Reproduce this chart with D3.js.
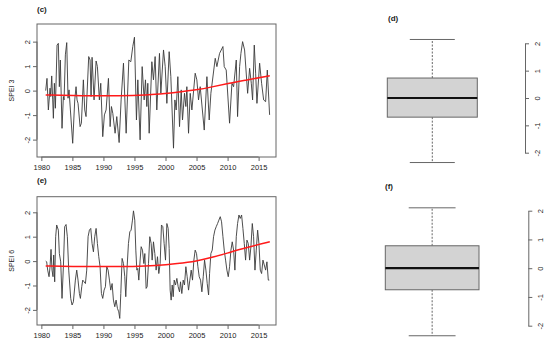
<!DOCTYPE html>
<html><head><meta charset="utf-8">
<script src="https://cdn.jsdelivr.net/npm/d3@7"></script>
<style>body{margin:0;background:#fff}svg{display:block;font-family:"Liberation Sans",Arial,sans-serif;opacity:0.999}</style>
</head><body><svg id="c" width="550" height="348"></svg>
<script>
const yearTicks = [1980,1985,1990,1995,2000,2005,2010,2015];
const speiTicks = [-2,-1,0,1,2];
const panelLabels = ["(c)","(d)","(e)","(f)"];
const yTitles = ["SPEI 3","SPEI 6"];

const years3 = [1980.70,1980.91,1981.13,1981.40,1981.51,1981.67,1981.83,1981.94,1982.10,1982.26,
1982.53,1982.74,1982.90,1983.06,1983.33,1983.55,1983.66,1983.87,1984.09,1984.30,
1984.46,1984.68,1985.05,1985.38,1985.59,1985.75,1985.91,1986.24,1986.45,1986.77,
1986.99,1987.20,1987.63,1987.85,1988.01,1988.17,1988.49,1988.82,1989.03,1989.35,
1989.57,1989.89,1990.16,1990.43,1990.81,1991.08,1991.29,1991.51,1991.88,1992.15,
1992.53,1992.85,1993.23,1993.66,1994.09,1994.41,1994.73,1995.00,1995.32,1995.54,
1995.91,1996.24,1996.56,1996.77,1996.99,1997.15,1997.37,1997.80,1998.06,1998.33,
1998.60,1999.03,1999.25,1999.68,1999.95,2000.22,2000.59,2000.86,2001.29,2001.51,
2001.72,2001.99,2002.26,2002.53,2002.74,2003.06,2003.28,2003.44,2003.71,2003.98,
2004.25,2004.78,2005.05,2005.32,2005.59,2006.24,2006.67,2007.04,2007.31,2008.01,
2008.28,2008.71,2009.25,2009.46,2009.78,2010.32,2010.70,2010.97,2011.40,2011.61,
2011.94,2012.15,2012.42,2012.74,2013.23,2013.55,2013.82,2014.03,2014.30,2014.52,
2014.73,2015.16,2015.48,2015.81,2016.13,2016.40,2016.77];
const spei3 = [0,0.50,-0.79,0.10,-0.24,0.60,-0.38,-1.13,0.30,-0.72,
1.86,1.93,0.16,1.25,-1.54,-0.24,-0.38,1.46,1.96,-0.31,
0.03,-0.79,-2.15,-0.38,0.16,-0.38,-0.52,-1.47,-1.33,0.44,
-0.79,-1.06,1.39,1.25,-0.24,1.36,-0.38,1.21,0.98,-0.38,
0.30,-1.88,-0.99,-0.79,0.50,-1.47,-0.65,-0.93,-1.74,-1.06,
-2.12,-0.38,1.12,-1.74,1.25,1.18,1.80,2.18,-1.20,0.44,
-2.01,0.98,-0.38,0.44,-0.65,0.30,-1.74,1.18,0.44,1.39,
-0.79,1.52,-0.11,1.66,0.98,-0.52,1.59,0.57,-2.35,-0.38,
-0.79,0.57,-1.47,0.03,-1.20,-0.11,-0.65,0.16,-1.74,-0.11,
-0.79,0.71,0.44,-0.38,0.16,-1.61,0.57,-1.20,-0.11,1.32,
0.98,1.52,1.80,0.98,0.84,-1.33,0.30,0.16,1.25,-1.06,
0.98,1.52,2.00,1.66,-0.11,0.91,0.30,-0.38,1.86,0.71,
-0.52,1.12,0.30,-0.38,-0.45,0.84,-0.99];

const years6 = [1980.70,1980.86,1981.02,1981.24,1981.40,1981.56,1981.72,1981.88,1981.99,1982.15,
1982.31,1982.47,1982.74,1982.90,1983.12,1983.33,1983.55,1983.76,1983.98,1984.19,
1984.41,1984.73,1984.95,1985.16,1985.48,1985.70,1985.91,1986.13,1986.29,1986.51,
1986.67,1986.88,1987.10,1987.31,1987.53,1987.74,1987.96,1988.17,1988.39,1988.60,
1988.82,1989.03,1989.25,1989.46,1989.68,1989.89,1990.11,1990.32,1990.54,1990.75,
1990.97,1991.18,1991.40,1991.61,1991.83,1992.04,1992.26,1992.47,1992.63,1992.80,
1993.01,1993.23,1993.44,1993.60,1993.82,1994.03,1994.25,1994.46,1994.68,1994.84,
1995.05,1995.22,1995.38,1995.54,1995.70,1995.91,1996.08,1996.29,1996.51,1996.67,
1996.88,1997.04,1997.26,1997.47,1997.69,1997.85,1998.06,1998.28,1998.49,1998.71,
1998.92,1999.14,1999.35,1999.57,1999.78,2000.00,2000.22,2000.43,2000.59,2000.75,
2000.91,2001.08,2001.24,2001.40,2001.61,2001.83,2002.04,2002.26,2002.42,2002.63,
2002.85,2003.06,2003.28,2003.49,2003.71,2003.92,2004.14,2004.35,2004.57,2004.78,
2005.00,2005.22,2005.43,2005.65,2005.86,2006.08,2006.29,2006.51,2006.72,2006.94,
2007.10,2007.31,2007.53,2007.74,2007.96,2008.17,2008.39,2008.60,2008.82,2009.03,
2009.25,2009.46,2009.68,2009.89,2010.11,2010.32,2010.54,2010.75,2010.97,2011.18,
2011.40,2011.61,2011.83,2012.04,2012.26,2012.47,2012.69,2012.90,2013.12,2013.33,
2013.55,2013.76,2013.98,2014.19,2014.41,2014.62,2014.84,2015.05,2015.27,2015.48,
2015.70,2015.91,2016.13,2016.34,2016.56,2016.72];
const spei6 = [0.00,-0.03,-0.37,-0.64,-0.23,0.48,-0.37,-0.64,0.25,-0.85,
1.00,1.48,1.27,0.31,-0.03,-1.53,-0.23,1.41,1.50,1.00,
-0.37,-1.53,-1.80,-1.67,-0.78,-0.37,-0.78,-1.33,-1.53,-1.05,
-0.78,-0.85,-0.92,-0.37,1.00,1.27,1.34,0.72,0.38,1.00,
1.34,0.72,0.18,-0.23,-1.33,-1.53,-1.19,-1.05,-0.23,-0.37,
-0.78,-1.19,-0.92,-1.60,-1.87,-1.60,-1.94,-2.08,-2.35,-1.33,
0.11,-0.10,-0.64,-1.46,-0.23,0.72,1.20,1.27,1.68,2.06,
1.68,0.45,-0.37,-0.30,-0.78,0.04,0.59,0.45,-0.10,0.31,
-1.12,-1.05,-0.10,1.00,0.72,0.04,0.79,0.31,-0.37,0.18,
-0.51,-0.10,1.48,1.41,0.72,0.04,1.54,1.34,0.52,-1.19,
-1.60,-0.98,-1.46,-0.78,-0.98,-0.71,-1.05,-1.26,-0.85,-1.33,
-0.78,-0.98,-0.23,-0.64,-1.19,-0.78,-0.37,-0.78,0.04,0.45,
0.31,-0.23,-0.64,-0.78,-1.26,-0.64,0.04,-0.37,-0.92,-1.39,
-0.51,0.31,0.45,1.00,1.27,1.41,1.54,1.68,1.82,1.61,
1.00,0.45,0.04,-0.37,-0.64,-0.23,0.45,0.79,0.45,-0.37,
1.00,1.54,1.89,1.75,1.89,1.34,0.72,0.04,0.86,0.72,
0.04,0.59,1.54,1.00,-0.37,0.45,1.27,0.72,-0.37,-0.51,
0.04,-0.16,-0.37,-0.03,-0.78,-0.78];

const trendYears = [1980.7,1985,1990,1995,1998.3,2002,2005,2007.5,2010,2013,2016.8];
const trend3 = [-0.18,-0.20,-0.22,-0.20,-0.16,-0.06,0.03,0.15,0.29,0.43,0.61];
const trend6 = [-0.20,-0.22,-0.23,-0.22,-0.19,-0.10,0.00,0.15,0.33,0.55,0.79];

// boxplot stats: lower whisker, Q1, median, Q3, upper whisker
const boxStats3 = [-2.36,-0.70,0.00,0.73,2.14];
const boxStats6 = [-2.35,-0.75,0.00,0.78,2.10];

const svg = d3.select("#c");
const AX = "#666", TXT = "#222";

function zip(xs, ys){ const n=Math.min(xs.length,ys.length); return d3.range(n).map(i=>[xs[i],ys[i]]); }

const x = d3.scaleLinear().domain([1979.3, 2017.8]).range([37, 276]);

const panels = [
  {years: years3, vals: spei3, trend: trend3, y: d3.scaleLinear().domain([-2.71,2.72]).range([157,24]), title: yTitles[0], label: panelLabels[0], labelY: 11.5},
  {years: years6, vals: spei6, trend: trend6, y: d3.scaleLinear().domain([-2.62,2.64]).range([325,196.7]), title: yTitles[1], label: panelLabels[2], labelY: 182.5}
];

panels.forEach(p => {
  const [yb, yt] = p.y.range();
  const g = svg.append("g");
  g.append("path").datum(zip(p.years, p.vals))
    .attr("fill","none").attr("stroke","#3a3a3a").attr("stroke-width",0.9).attr("stroke-linejoin","round")
    .attr("d", d3.line().x(d=>x(d[0])).y(d=>p.y(d[1])));
  g.append("path").datum(zip(trendYears, p.trend))
    .attr("fill","none").attr("stroke","#ff1a1a").attr("stroke-width",1.5)
    .attr("d", d3.line().curve(d3.curveBasis).x(d=>x(d[0])).y(d=>p.y(d[1])));
  g.append("rect").attr("x",37).attr("y",yt).attr("width",239).attr("height",yb-yt)
    .attr("fill","none").attr("stroke",AX).attr("stroke-width",1);
  const ya = g.append("g").attr("transform","translate(37,0)")
    .call(d3.axisLeft(p.y).tickValues(speiTicks).tickSize(4).tickSizeOuter(0).tickFormat(d=>String(d)));
  ya.select(".domain").attr("stroke",AX).attr("d", `M0,${p.y(-2)}V${p.y(2)}`);
  ya.selectAll("line").attr("stroke",AX);
  ya.selectAll("text").attr("transform","rotate(-90)").attr("x",0).attr("y",-7).attr("dy",0)
    .attr("text-anchor","middle").attr("fill",TXT).style("font-size","7.5px").style("font-family","Liberation Sans, Arial, sans-serif");
  const xa = g.append("g").attr("transform",`translate(0,${yb})`)
    .call(d3.axisBottom(x).tickValues(yearTicks).tickSize(4).tickPadding(4).tickFormat(d=>String(d)));
  xa.select(".domain").attr("stroke",AX).attr("d", `M${x(1980)},0H${x(2015)}`);
  xa.selectAll("line").attr("stroke",AX);
  xa.selectAll("text").attr("fill",TXT).style("font-size","7.5px").style("font-family","Liberation Sans, Arial, sans-serif");
  g.append("text").attr("transform",`translate(14,${(yt+yb)/2}) rotate(-90)`)
    .attr("text-anchor","middle").attr("fill",TXT).style("font-size","7px").text(p.title);
  g.append("text").attr("x",37).attr("y",p.labelY).attr("fill",TXT)
    .style("font-size","8px").style("font-weight","bold").text(p.label);
});

const boxes = [
  {stats: boxStats3, y: d3.scaleLinear().domain([-2,2]).range([152.7,43.3]), xr:[387.3,477.3], axisX: 525, label: panelLabels[1], lx: 388, ly: 21},
  {stats: boxStats6, y: d3.scaleLinear().domain([-2,2]).range([325.7,210.7]), xr:[385.3,479], axisX: 528.3, label: panelLabels[3], lx: 385, ly: 189}
];
boxes.forEach(b => {
  const g = svg.append("g");
  const bx = d3.scaleBand().domain(["SPEI"]).range(b.xr).padding(0);
  const x0 = bx("SPEI"), bw = bx.bandwidth(), cx = x0 + bw/2;
  const [lo,q1,med,q3,hi] = b.stats;
  g.append("line").attr("x1",cx).attr("x2",cx).attr("y1",b.y(q3)).attr("y2",b.y(hi))
    .attr("stroke","#555").attr("stroke-width",0.9).attr("stroke-dasharray","2,1.5");
  g.append("line").attr("x1",cx).attr("x2",cx).attr("y1",b.y(q1)).attr("y2",b.y(lo))
    .attr("stroke","#555").attr("stroke-width",0.9).attr("stroke-dasharray","2,1.5");
  [lo,hi].forEach(v => g.append("line").attr("x1",cx-bw/4).attr("x2",cx+bw/4).attr("y1",b.y(v)).attr("y2",b.y(v))
    .attr("stroke","#666").attr("stroke-width",1));
  g.append("rect").attr("x",x0).attr("y",b.y(q3)).attr("width",bw).attr("height",b.y(q1)-b.y(q3))
    .attr("fill","#d3d3d3").attr("stroke","#666").attr("stroke-width",1);
  g.append("line").attr("x1",x0).attr("x2",x0+bw).attr("y1",b.y(med)).attr("y2",b.y(med))
    .attr("stroke","#111").attr("stroke-width",2.2);
  const ra = g.append("g").attr("transform",`translate(${b.axisX},0)`)
    .call(d3.axisRight(b.y).tickValues(speiTicks).tickSize(4).tickSizeOuter(0).tickFormat(d=>String(d)));
  ra.select(".domain").attr("stroke",AX);
  ra.selectAll("line").attr("stroke",AX);
  ra.selectAll("text").attr("transform","rotate(-90)").attr("x",0).attr("y",15).attr("dy",0)
    .attr("text-anchor","middle").attr("fill",TXT).style("font-size","7.5px").style("font-family","Liberation Sans, Arial, sans-serif");
  g.append("text").attr("x",b.lx).attr("y",b.ly).attr("fill",TXT)
    .style("font-size","8px").style("font-weight","bold").text(b.label);
});
</script></body></html>
